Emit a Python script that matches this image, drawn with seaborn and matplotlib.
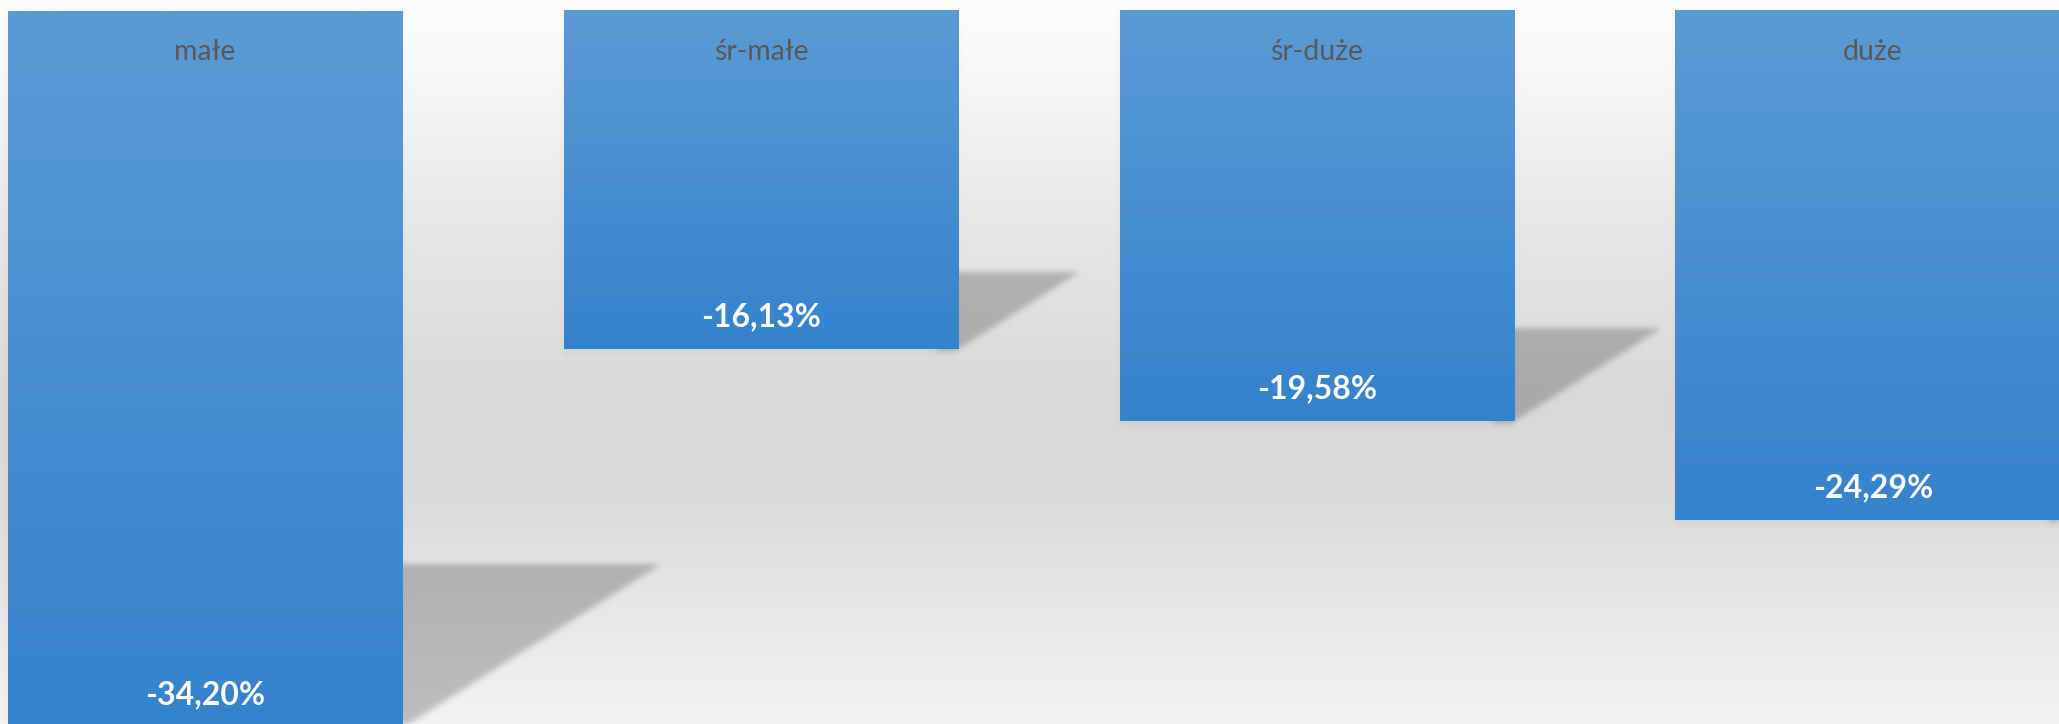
import numpy as np
import pandas as pd
import matplotlib
matplotlib.use("Agg")
import matplotlib.pyplot as plt
import seaborn as sns
from matplotlib.path import Path

# ----------------------------
# DATA
# ----------------------------
categories = ["małe", "śr-małe", "śr-duże", "duże"]
values = [-34.20, -16.13, -19.58, -24.29]
value_labels = ["-34,20%", "-16,13%", "-19,58%", "-24,29%"]

# ----------------------------
# STYLE
# ----------------------------
W, H, DPI = 2059, 724, 100
TOP_BLUE = np.array([91, 155, 213]) / 255.0
BOT_BLUE = np.array([53, 130, 204]) / 255.0
SHADOW_MULT = 0.78

sns.set_style("white")
plt.rcParams["font.family"] = ["Lato", "DejaVu Sans"]

fig = plt.figure(figsize=(W / DPI, H / DPI), dpi=DPI)
ax = fig.add_axes([0, 0, 1, 1])

df = pd.DataFrame({"cat": categories, "val": values})
sns.barplot(data=df, x="cat", y="val", width=0.71, color="#4a90d4", ax=ax, zorder=2)

XLIM = (-0.369, 3.335)
YLIM = (-34.02, 0.525)
ax.set_xlim(*XLIM)
ax.set_ylim(*YLIM)
ax.axis("off")

# ----------------------------
# BACKGROUND + SHADOWS (pixel image)
# ----------------------------
prof_y = [0.0, 0.1, 0.3, 0.55, 0.7, 0.85, 1.0]
prof_v = [253, 248, 232, 217, 220, 232, 243]
rows = np.interp(np.linspace(0, 1, H), prof_y, prof_v) / 255.0
bg = np.repeat(rows[:, None], W, axis=1)

yy, xx = np.mgrid[0:H, 0:W]
pts = np.column_stack([xx.ravel() + 0.5, (H - yy.ravel()) - 0.5])


def blur(a, sigma):
    r = int(3 * sigma)
    k = np.exp(-0.5 * (np.arange(-r, r + 1) / sigma) ** 2)
    k /= k.sum()
    a = np.apply_along_axis(lambda m: np.convolve(m, k, mode="same"), 0, a)
    a = np.apply_along_axis(lambda m: np.convolve(m, k, mode="same"), 1, a)
    return a


cast = np.zeros((H, W))
soft = np.zeros((H, W))
for p in ax.patches:
    x0, w = p.get_x(), p.get_width()
    (xl, yt), (xr, yb) = ax.transData.transform([(x0, 0), (x0 + w, p.get_height())])
    hpx = yt - yb
    tri = Path([(xr - 20, yb - 2), (xr - 20, yb + 0.228 * hpx),
                (xr + 0.36 * hpx, yb + 0.228 * hpx), (xr, yb)])
    cast = np.maximum(cast, tri.contains_points(pts).reshape(H, W))
    rect = Path([(xl, yb - 5), (xr, yb - 5), (xr, yt), (xl, yt)])
    soft = np.maximum(soft, rect.contains_points(pts).reshape(H, W))

cast = blur(cast.astype(float), 3.0)
soft = blur(soft.astype(float), 3.0) * 0.12
bg = bg * (1 - soft) + 0.55 * soft
bg = bg * (1 - cast * (1 - SHADOW_MULT))

ax.imshow(np.dstack([bg] * 3), extent=[*XLIM, *YLIM],
          aspect="auto", zorder=0, interpolation="nearest")

# ----------------------------
# GRADIENT BARS + LABELS
# ----------------------------
for p, cat, lab in zip(ax.patches, categories, value_labels):
    x0, w, h = p.get_x(), p.get_width(), p.get_height()
    t = np.linspace(0, 1, 256)[:, None]
    grad = (TOP_BLUE[None, :] * (1 - t) + BOT_BLUE[None, :] * t)[:, None, :]
    ax.imshow(grad, extent=[x0, x0 + w, h, 0], aspect="auto", zorder=2,
              interpolation="bilinear")
    p.set_facecolor("none")
    p.set_edgecolor("none")
    xc = x0 + w / 2
    ax.annotate(cat, (xc, 0), xytext=(0, -29.5), textcoords="offset points",
                ha="center", va="center", fontsize=20.5, color="#595959",
                zorder=3, annotation_clip=False)
    ax.annotate(lab, (xc, h), xytext=(0, 23.5), textcoords="offset points",
                ha="center", va="center", fontsize=23, fontweight="bold",
                color="white", zorder=3, annotation_clip=False)

ax.set_xlim(*XLIM)
ax.set_ylim(*YLIM)

plt.savefig("out.png", dpi=DPI)
